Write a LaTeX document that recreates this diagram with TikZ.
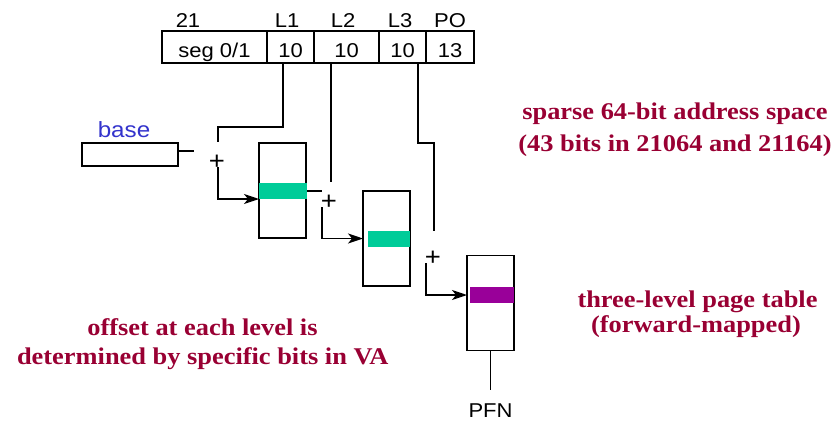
\documentclass[tikz,border=0pt]{standalone}
\usepackage{fontspec}
\newfontfamily\sansf[FakeStretch=1.1]{Liberation Sans}
\newfontfamily\seriff[FakeStretch=1.1]{Liberation Serif}
\usetikzlibrary{arrows.meta}
\definecolor{dred}{RGB}{153,0,51}
\definecolor{bblue}{RGB}{51,51,204}
\definecolor{bgreen}{RGB}{0,204,153}
\definecolor{bpurple}{RGB}{153,0,153}
\begin{document}
\begin{tikzpicture}[x=1pt,y=-1pt,
  line width=1.3pt,
  cell/.style={draw, minimum height=32pt, inner sep=0pt, outer sep=0pt,
    text height=20pt, text depth=0pt, font=\sansf\fontsize{20}{24}\selectfont},
  lbl/.style={anchor=base, inner sep=0pt, font=\sansf\fontsize{20}{24}\selectfont},
  tbl/.style={draw, minimum width=47pt, minimum height=95pt, inner sep=0pt, outer sep=0pt},
  band/.style={inner sep=0pt, outer sep=0pt, minimum height=16pt},
  plus/.style={inner sep=0pt, font=\sansf\fontsize{25}{28}\selectfont},
  note/.style={anchor=base, inner sep=0pt, text=dred, font=\seriff\bfseries\fontsize{24}{30}\selectfont},
  arr/.style={-{Stealth[length=15pt,width=10pt,inset=4pt]}}
]
\useasboundingbox (0,0) rectangle (838,421);

% virtual address fields
\node[cell, minimum width=105pt] (seg) at (214.5,47) {seg 0/1};
\node[cell, minimum width=47pt] (c1) at (290.5,47) {10};
\node[cell, minimum width=65pt] (c2) at (346.5,47) {10};
\node[cell, minimum width=47pt] (c3) at (402.5,47) {10};
\node[cell, minimum width=48pt] (cpo) at (450,47) {13};

\node[lbl] (n21) at (188,27) {21};
\node[lbl] (nl1) at (287,27) {L1};
\node[lbl] (nl2) at (343,27) {L2};
\node[lbl] (nl3) at (400,27) {L3};
\node[lbl] (npo) at (450,27) {PO};

% base register
\node[draw, minimum width=96pt, minimum height=23pt, inner sep=0pt, outer sep=0pt] (base) at (130,154.5) {};
\node[anchor=base, inner sep=0pt, text=bblue, font=\sansf\fontsize{22}{26}\selectfont] (basel) at (124,137) {base};

% tables
\node[tbl] (b1) at (282.5,190.5) {};
\node[tbl] (b2) at (386.5,238.5) {};
\node[tbl] (b3) at (490.5,303) {};
\node[band, fill=bgreen, minimum width=48pt] (band1) at (283,191) {};
\node[band, fill=bgreen, minimum width=42pt] (band2) at (389,239) {};
\node[band, fill=bpurple, minimum width=44pt] (band3) at (492,295) {};

% adders
\node[plus] (p1) at (217,162) {+};
\node[plus] (p2) at (329,202) {+};
\node[plus] (p3) at (433,258.5) {+};

% coordinates for free ends
\coordinate (l1top) at (283,63);
\coordinate (l1end) at (218,142);
\coordinate (l2top) at (331,63);
\coordinate (l2end) at (331,182);
\coordinate (l3top) at (418,63);
\coordinate (l3end) at (434,231);
\coordinate (bend) at (194,151);
\coordinate (b1end) at (322,191);
\coordinate (s1) at (218,167);
\coordinate (s2) at (322,207);
\coordinate (s3) at (426,263);
\coordinate (pfnend) at (490.5,390);

% connectors
\draw ([yshift=3.5pt]base.east) -- (bend);
\draw (l1top) -- ++(0,64) -| (l1end);
\draw (l2top) -- (l2end);
\draw (l3top) -- ++(0,80) -| (l3end);
\draw (band1.east) -- (b1end);
\draw[arr] (s1) |- ([yshift=-8.5pt]b1.west);
\draw[arr] (s2) |- (b2.west);
\draw[arr] (s3) |- ([yshift=8pt]b3.west);
\draw (b3.south) -- (pfnend);
\node[lbl] (pfn) at (490.5,417) {PFN};

% notes
\node[note] (t1a) at (675,119) {sparse 64-bit address space};
\node[note] (t1b) at (675,151.5) {(43 bits in 21064 and 21164)};
\node[note] (t2a) at (697.5,307) {three-level page table};
\node[note] (t2b) at (696,332) {(forward-mapped)};
\node[note] (t3a) at (202.5,335) {offset at each level is};
\node[note, anchor=base east] (t3b) at (389,364) {determined by specific bits in VA};
\end{tikzpicture}
\end{document}
